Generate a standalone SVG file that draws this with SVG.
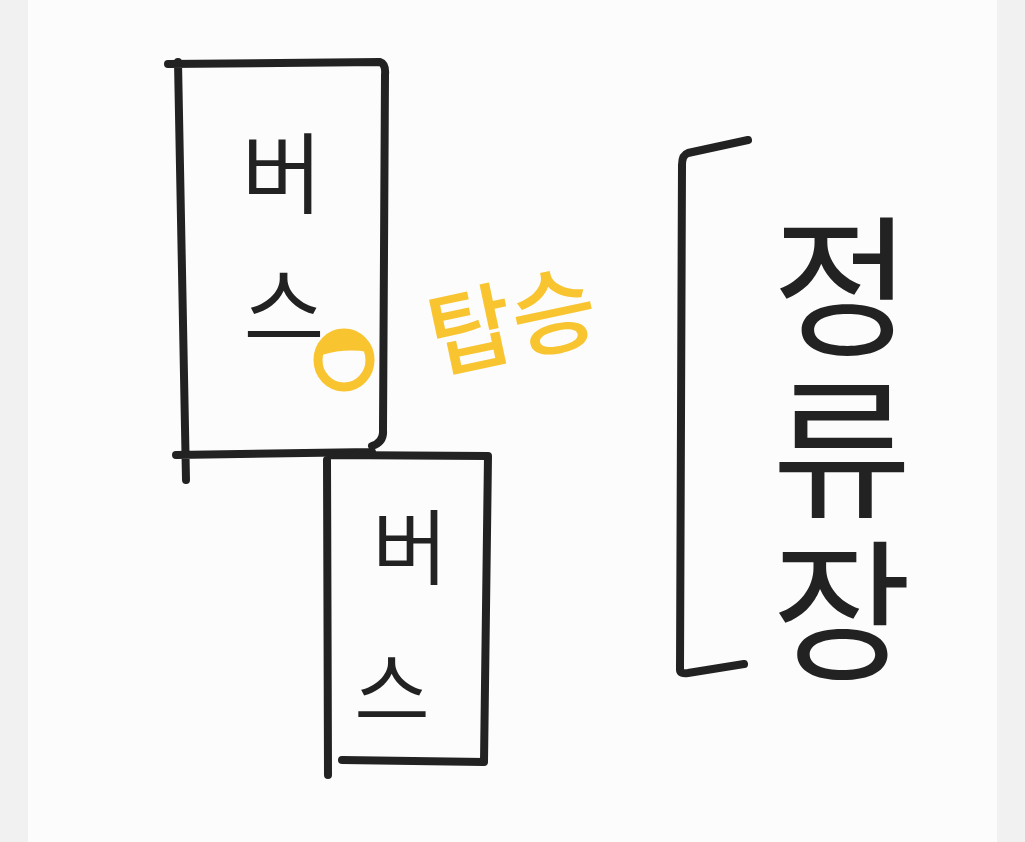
<svg xmlns="http://www.w3.org/2000/svg" width="1025" height="842" viewBox="0 0 1025 842">
<style>
.ink{fill:none;stroke:#222;stroke-width:8;stroke-linecap:round;stroke-linejoin:round}
.t{font-family:"Noto Sans CJK KR",sans-serif;fill:#222;font-weight:400}
.y{font-family:"Noto Sans CJK KR",sans-serif;fill:#f8c430;font-weight:500}
</style>
<rect width="1025" height="842" fill="#f1f1f1"/>
<rect x="28" y="0" width="969" height="842" fill="#fcfcfc"/>
<g id="bus1">
<path class="ink" d="M168 64 L380 62 Q386 64 385 75 L383 430 Q384 442 372 446 M178 62 L186 480 M176 455 L372 452"/>
<text class="t" x="282" y="206" font-size="88" text-anchor="middle">버</text>
<text class="t" x="284" y="340" font-size="88" text-anchor="middle">스</text>
</g>
<g id="bus2">
<path class="ink" d="M330 455 L488 456 L484 762 L342 760 M327 460 L328 775"/>
<text class="t" x="410" y="578" font-size="82" text-anchor="middle">버</text>
<text class="t" x="392" y="720" font-size="82" text-anchor="middle">스</text>
</g>
<g id="board">
<ellipse cx="344" cy="360" rx="26" ry="27" fill="none" stroke="#f8c430" stroke-width="9"/>
<path d="M322 355 Q326 332 346 333 Q368 334 368 352 Q345 348 322 355 Z" fill="#f8c430"/>
<text class="y" x="512" y="355" font-size="92" text-anchor="middle" transform="rotate(-12 512 320)">탑승</text>
</g>
<g id="stop">
<path class="ink" d="M748 140 L688 153 Q682 155 682 165 L680 670 Q680 674 688 673 L744 664"/>
<text class="t" x="842" y="210" font-size="152" font-weight="300" letter-spacing="10" style="writing-mode:vertical-rl;text-orientation:upright">정류장</text>
</g>
<g id="connectors"></g>
</svg>
